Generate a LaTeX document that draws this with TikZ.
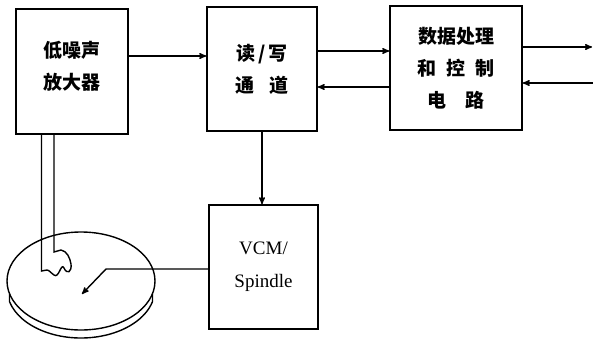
\documentclass[tikz,border=0pt]{standalone}
\usepackage{fontspec}
\setmainfont{Liberation Serif}
\newfontfamily\cjk{Noto Sans CJK SC}
\usepackage{tikz}
\usetikzlibrary{arrows}
\usetikzlibrary{positioning}

\begin{document}
\begin{tikzpicture}[x=1pt,y=-1pt,>=stealth',line width=1.4pt,
    block/.style={draw,line width=1.6pt,inner sep=0pt,align=center,
        font=\cjk\bfseries\fontsize{19}{32}\selectfont}]
    \useasboundingbox (0,0) rectangle (593,342);

    \node[block,minimum width=112pt,minimum height=125pt](lna) at (72,71.5) {低噪声\\放大器\\[-20pt]\mbox{}};
    \node[block,minimum width=110pt,minimum height=124pt](rw) at (262,69) {读\,/\,写\\通\hspace{15pt}道};
    \node[block,minimum width=132pt,minimum height=124pt](dsp) at (456,68) {数据处理\\和\hspace{10pt}控\hspace{10pt}制\\电\hspace{20pt}路};
    \node[block,minimum width=109pt,minimum height=124pt,
        font=\fontsize{19}{33}\selectfont](vcm) at (263.5,267) {VCM/\\Spindle};
    \coordinate (out) at (592,47);
    \coordinate (in) at (593,83);
    \coordinate (bend) at (106,269);
    \coordinate (spot) at (82,294);
    \coordinate (disk) at (81,281);
    \coordinate (wa) at (41.5,134);
    \coordinate (wb) at (54,134);

    \draw[->] ([yshift=15.5pt]lna.east) -- ([yshift=13pt]rw.west);
    \draw[->] ([yshift=18pt]rw.east) -- ([yshift=17pt]dsp.west);
    \draw[->] ([yshift=-19pt]dsp.west) -- ([yshift=-18pt]rw.east);
    \draw[->] ([yshift=21pt]dsp.east) -- (out);
    \draw[->] (in) -- ([yshift=-15pt]dsp.east);
    \draw[->] (rw.south) -- (rw.south |- vcm.north);
    \draw[->] ([yshift=-2pt]vcm.west) -- (bend) -- (spot);

    % disk with its lower rim
    \draw (disk) ellipse [x radius=74pt, y radius=49pt];
    \draw (disk) ++(195:74pt and 49pt) -- ++(0,8)
        arc[start angle=195, end angle=345, x radius=74pt, y radius=49pt] -- ++(0,-8);

    % head wires and the head itself
    \draw (wa) -- (41.5,271) -- (47,270);
    \draw (wb) -- (54,252) -- (61,250)
        .. controls (67,251) and (70,258) .. (71,264)
        .. controls (72,272) and (67,275) .. (64,268)
        .. controls (61,262) and (59,279) .. (54,275)
        .. controls (51,273) and (49,270) .. (47,270);
\end{tikzpicture}
\end{document}
